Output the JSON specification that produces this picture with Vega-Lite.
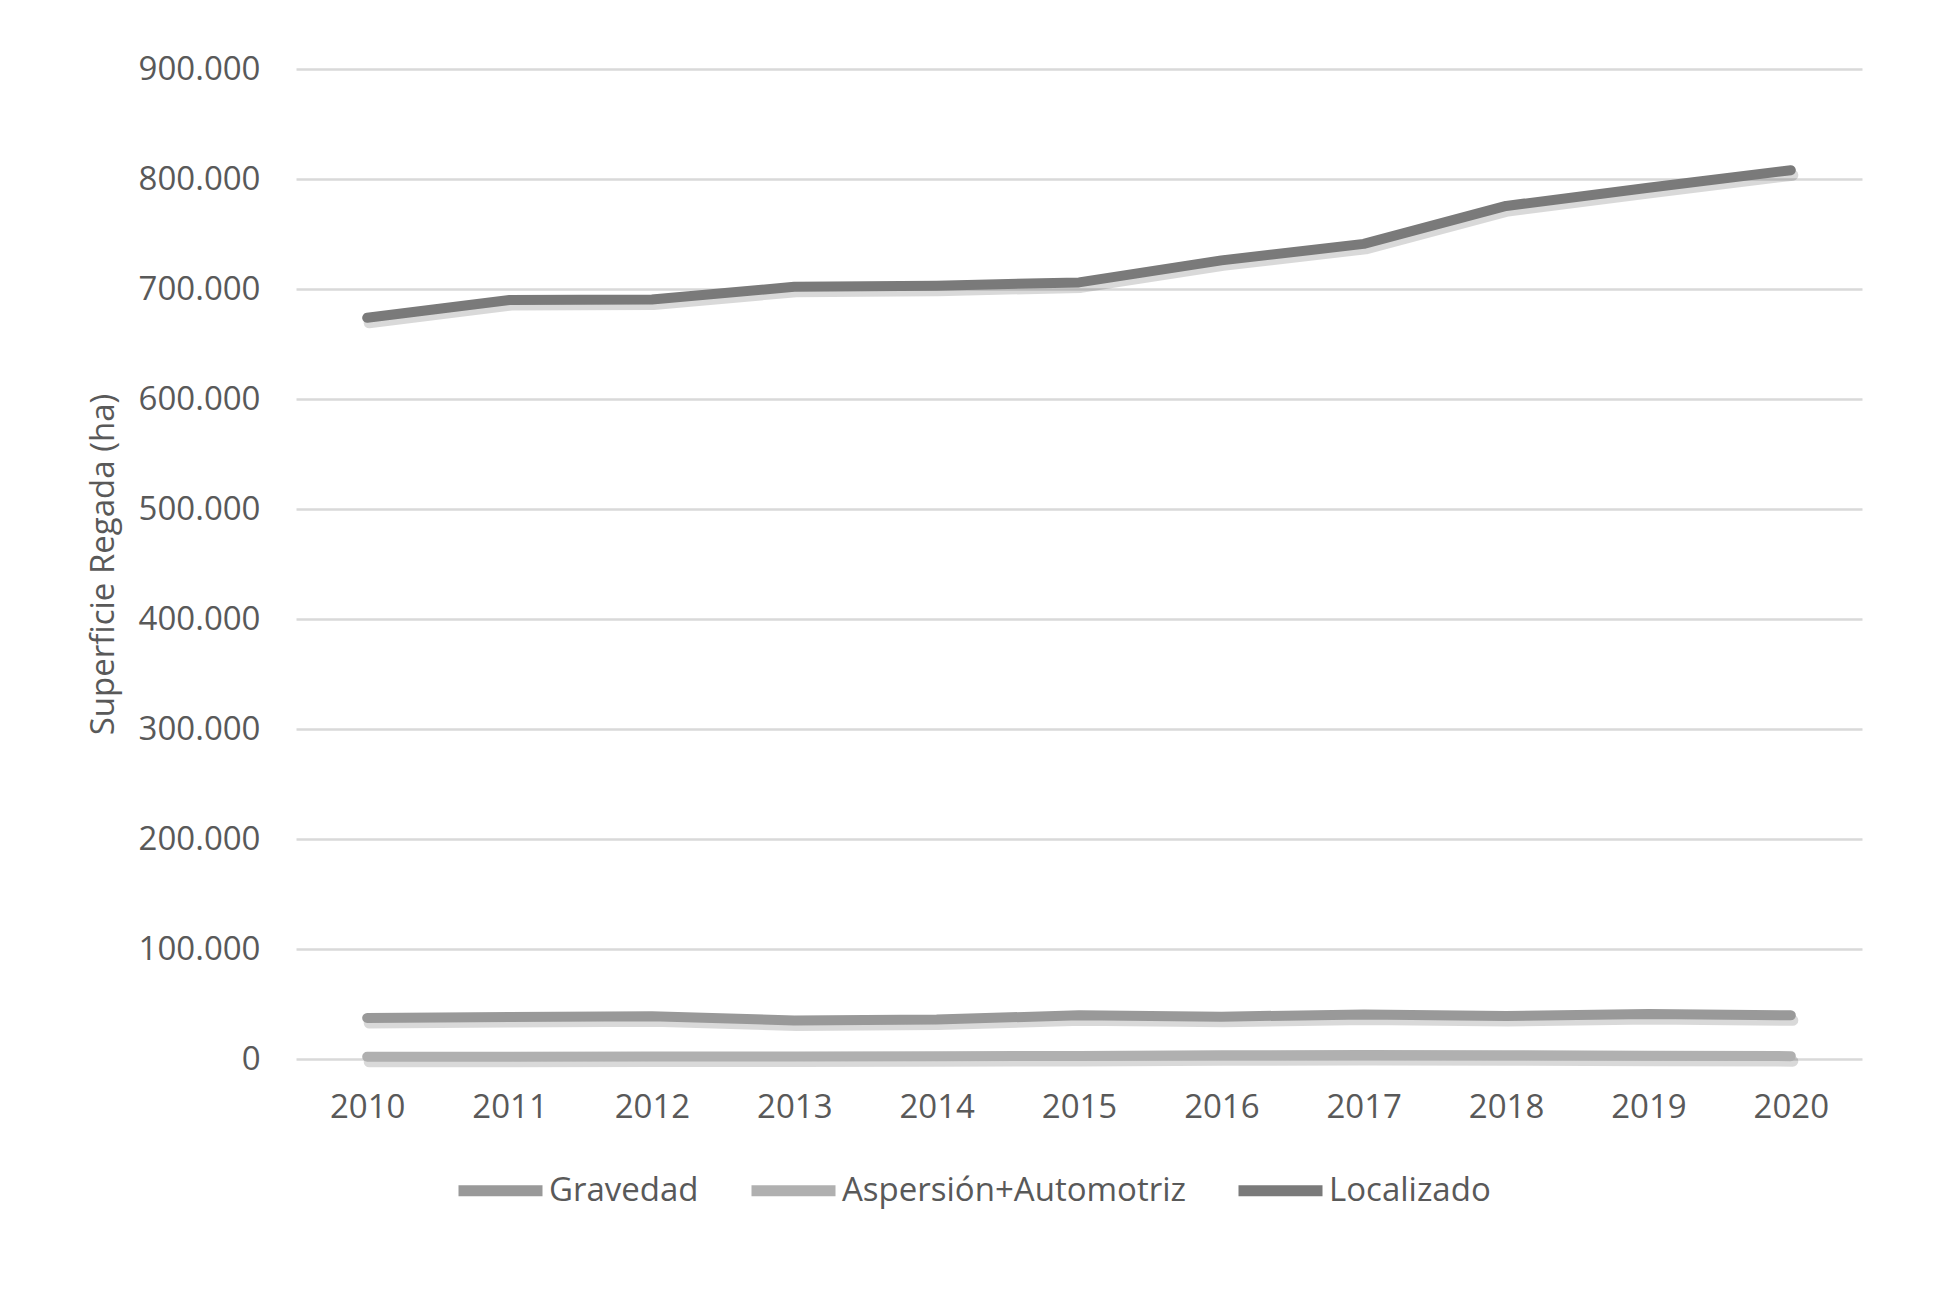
{
  "$schema": "https://vega.github.io/schema/vega-lite/v6.json",
  "width": 1566,
  "height": 990,
  "autosize": {"type": "none"},
  "padding": {"left": 296, "top": 69, "right": 71, "bottom": 232},
  "background": "white",
  "config": {
    "locale": {"number": {"decimal": ",", "thousands": ".", "grouping": [3], "currency": ["", " €"]}},
    "view": {"stroke": null},
    "font": "Open Sans"
  },
  "data": {
    "values": [
      {"anio": "2010", "sistema": "Gravedad", "ha": 37300},
      {"anio": "2011", "sistema": "Gravedad", "ha": 38200},
      {"anio": "2012", "sistema": "Gravedad", "ha": 38800},
      {"anio": "2013", "sistema": "Gravedad", "ha": 35000},
      {"anio": "2014", "sistema": "Gravedad", "ha": 35800},
      {"anio": "2015", "sistema": "Gravedad", "ha": 39800},
      {"anio": "2016", "sistema": "Gravedad", "ha": 38500},
      {"anio": "2017", "sistema": "Gravedad", "ha": 40500},
      {"anio": "2018", "sistema": "Gravedad", "ha": 39000},
      {"anio": "2019", "sistema": "Gravedad", "ha": 41000},
      {"anio": "2020", "sistema": "Gravedad", "ha": 39700},
      {"anio": "2010", "sistema": "Aspersión+Automotriz", "ha": 2000},
      {"anio": "2011", "sistema": "Aspersión+Automotriz", "ha": 2100},
      {"anio": "2012", "sistema": "Aspersión+Automotriz", "ha": 2200},
      {"anio": "2013", "sistema": "Aspersión+Automotriz", "ha": 2300},
      {"anio": "2014", "sistema": "Aspersión+Automotriz", "ha": 2500},
      {"anio": "2015", "sistema": "Aspersión+Automotriz", "ha": 2800},
      {"anio": "2016", "sistema": "Aspersión+Automotriz", "ha": 3300},
      {"anio": "2017", "sistema": "Aspersión+Automotriz", "ha": 3600},
      {"anio": "2018", "sistema": "Aspersión+Automotriz", "ha": 3500},
      {"anio": "2019", "sistema": "Aspersión+Automotriz", "ha": 3000},
      {"anio": "2020", "sistema": "Aspersión+Automotriz", "ha": 2600},
      {"anio": "2010", "sistema": "Localizado", "ha": 673800},
      {"anio": "2011", "sistema": "Localizado", "ha": 690000},
      {"anio": "2012", "sistema": "Localizado", "ha": 690500},
      {"anio": "2013", "sistema": "Localizado", "ha": 702000},
      {"anio": "2014", "sistema": "Localizado", "ha": 703000},
      {"anio": "2015", "sistema": "Localizado", "ha": 706000},
      {"anio": "2016", "sistema": "Localizado", "ha": 726000},
      {"anio": "2017", "sistema": "Localizado", "ha": 741000},
      {"anio": "2018", "sistema": "Localizado", "ha": 775500},
      {"anio": "2019", "sistema": "Localizado", "ha": 792000},
      {"anio": "2020", "sistema": "Localizado", "ha": 808000}
    ]
  },
  "encoding": {
    "x": {
      "field": "anio", "type": "ordinal",
      "scale": {"type": "point", "padding": 0.5},
      "axis": {
        "title": null, "domain": false, "ticks": false, "tickSize": 0, "grid": false,
        "labelAngle": 0, "labelFontSize": 33, "labelColor": "#595959",
        "labelPadding": 32, "labelFont": "Open Sans"
      }
    },
    "y": {
      "field": "ha", "type": "quantitative",
      "scale": {"domain": [0, 900000], "nice": false},
      "axis": {
        "title": "Superficie Regada (ha)", "titleFontSize": 33, "titleColor": "#595959",
        "titleFontWeight": "normal", "titlePadding": 18, "titleFont": "Open Sans",
        "values": [0, 100000, 200000, 300000, 400000, 500000, 600000, 700000, 800000, 900000],
        "format": ",d", "domain": false, "ticks": false, "tickSize": 0,
        "labelFontSize": 33, "labelColor": "#595959", "labelPadding": 36, "labelFont": "Open Sans",
        "gridColor": "#d9d9d9", "gridWidth": 2.5
      }
    }
  },
  "layer": [
    {
      "mark": {"type": "line", "strokeWidth": 11, "strokeCap": "round", "strokeJoin": "round", "color": "#000000", "opacity": 0.15, "yOffset": 5, "xOffset": 2},
      "encoding": {"detail": {"field": "sistema"}}
    },
    {
      "mark": {"type": "line", "strokeWidth": 10, "strokeCap": "round", "strokeJoin": "round"},
      "encoding": {
        "color": {
          "field": "sistema", "type": "nominal",
          "scale": {"domain": ["Gravedad", "Aspersión+Automotriz", "Localizado"], "range": ["#999999", "#b0b0b0", "#7a7a7a"]},
          "legend": {
            "title": null, "orient": "none", "direction": "horizontal",
            "legendX": 157, "legendY": 1074,
            "symbolType": "stroke", "symbolSize": 7056, "symbolStrokeWidth": 11,
            "labelFontSize": 33, "labelColor": "#595959", "labelFont": "Open Sans",
            "labelOffset": 1, "columnPadding": 30, "labelLimit": 600
          }
        }
      }
    }
  ]
}
